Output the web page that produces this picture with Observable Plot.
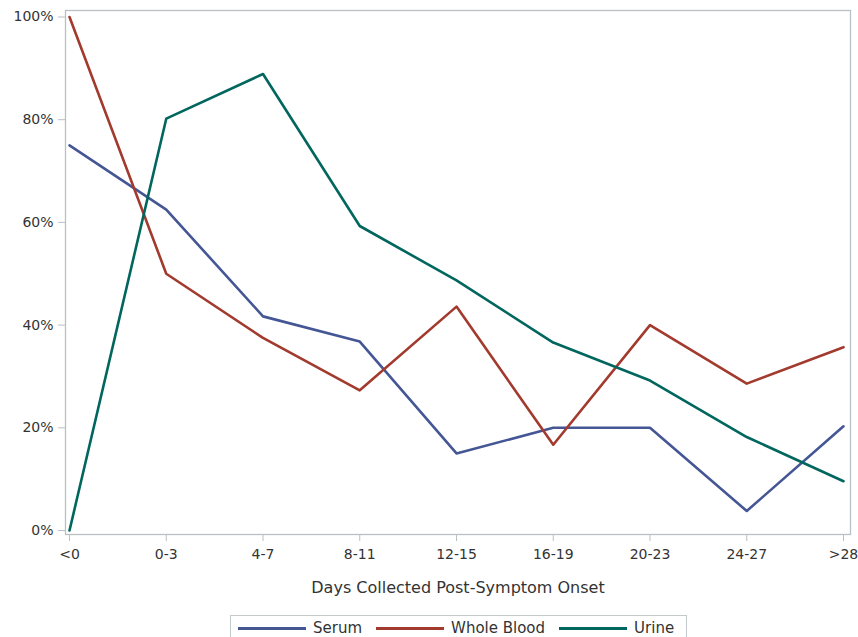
<!DOCTYPE html>
<html>
<head>
<meta charset="utf-8">
<script src="https://cdn.jsdelivr.net/npm/d3@7"></script>
<script src="https://cdn.jsdelivr.net/npm/@observablehq/plot@0.6"></script>
<style>
  html, body { margin: 0; padding: 0; background: #fff; }
  body { width: 858px; height: 637px; overflow: hidden; font-family: "DejaVu Sans", "Liberation Sans", Arial, sans-serif; position: relative; }
  #legend {
    position: absolute; left: 230px; top: 615px; width: 457px; height: 25px;
    border: 1px solid #c4c9cc; border-bottom: none; box-sizing: border-box; background: #fff;
    display: flex; align-items: center; padding-left: 7px; white-space: nowrap;
    font-size: 15px; color: #333;
  }
  .item { display: flex; align-items: center; margin-right: 14px; flex-shrink: 0; }
  .sw { width: 68px; height: 3px; margin-right: 7px; flex-shrink: 0; }
</style>
</head>
<body>
<div id="chart"></div>
<div id="legend"></div>
<script>
const categories = ["<0", "0-3", "4-7", "8-11", "12-15", "16-19", "20-23", "24-27", ">28"];
const seriesNames = ["Serum", "Whole Blood", "Urine"];
const serum = [0.75, 0.625, 0.417, 0.368, 0.15, 0.20, 0.20, 0.038, 0.203];
const wholeBlood = [1.00, 0.50, 0.375, 0.273, 0.436, 0.167, 0.40, 0.286, 0.357];
const urine = [0.0, 0.802, 0.889, 0.593, 0.487, 0.366, 0.292, 0.182, 0.096];
const colors = ["#445694", "#A23A2E", "#01665E"];
const yTicks = [0, 0.2, 0.4, 0.6, 0.8, 1.0];

const seriesValues = [serum, wholeBlood, urine];
const data = [];
seriesNames.forEach((s, i) => {
  categories.forEach((c, j) => data.push({series: s, cat: c, value: seriesValues[i][j]}));
});

const gray = "#b9c0c3";
const chart = Plot.plot({
  width: 858,
  height: 600,
  marginLeft: 65,
  marginRight: 8,
  marginTop: 10,
  marginBottom: 66,
  style: {fontFamily: "'DejaVu Sans', 'Liberation Sans', Arial, sans-serif", fontSize: "14px", color: "#333", background: "#fff"},
  x: {type: "point", domain: categories, padding: 0, round: false, insetLeft: 4, insetRight: 7},
  y: {domain: [0, 1], insetTop: 6.5, insetBottom: 4},
  color: {domain: seriesNames, range: colors},
  marks: [
    Plot.frame({stroke: gray, strokeWidth: 1.3}),
    Plot.axisY({ticks: yTicks, tickFormat: d3.format(".0%"), tickSize: 7, tickPadding: 5, stroke: gray, label: null, fill: "#333", fontSize: 14}),
    Plot.axisX({tickSize: 7, tickPadding: 8, stroke: gray, fill: "#333", fontSize: 14,
      label: "Days Collected Post-Symptom Onset", labelAnchor: "center", labelArrow: "none", labelOffset: 58}),
    Plot.line(data, {x: "cat", y: "value", z: "series", stroke: "series", strokeWidth: 2.6})
  ]
});
chart.querySelectorAll("g[aria-label='x-axis label'] text").forEach(t => t.setAttribute("font-size", "16"));
document.getElementById("chart").appendChild(chart);

const legend = document.getElementById("legend");
seriesNames.forEach((s, i) => {
  const it = document.createElement("div");
  it.className = "item";
  const sw = document.createElement("div");
  sw.className = "sw";
  sw.style.background = colors[i];
  const tx = document.createElement("span");
  tx.textContent = s;
  it.appendChild(sw); it.appendChild(tx);
  legend.appendChild(it);
});
</script>
</body>
</html>
